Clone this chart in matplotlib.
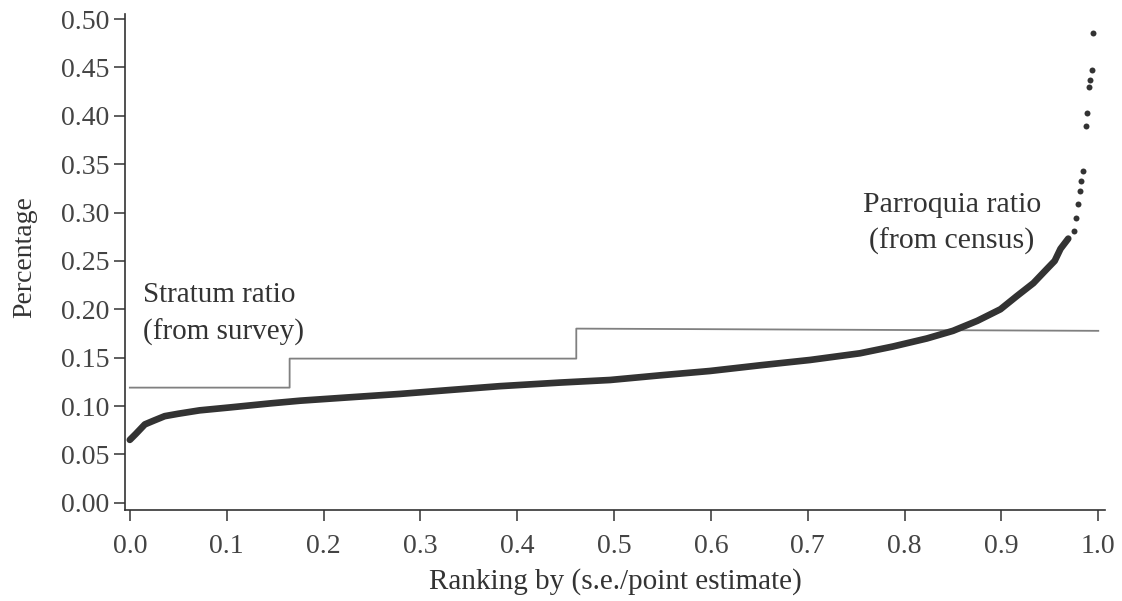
import matplotlib
matplotlib.use("Agg")
import matplotlib.pyplot as plt

plt.rcParams["font.family"] = ["Liberation Serif", "DejaVu Serif"]

# parroquia ratio, ranked (dense part of the curve)
rank = [0.000, 0.006, 0.0155, 0.025, 0.036, 0.050, 0.072, 0.103, 0.145,
        0.176, 0.227, 0.279, 0.330, 0.382, 0.444, 0.496, 0.5475, 0.599,
        0.651, 0.7025, 0.754, 0.788, 0.823, 0.850, 0.875, 0.899, 0.916,
        0.933, 0.947, 0.955, 0.961, 0.969]
ratio = [0.065, 0.071, 0.081, 0.085, 0.0895, 0.092, 0.0955, 0.0985, 0.1027,
         0.1055, 0.109, 0.1125, 0.1165, 0.1205, 0.1242, 0.1269, 0.1317,
         0.1362, 0.1421, 0.1476, 0.1545, 0.1615, 0.1698, 0.1777, 0.188,
         0.200, 0.2137, 0.227, 0.2417, 0.250, 0.2625, 0.273]

# sparse tail of the highest ratios
tail_rank = [0.975, 0.977, 0.979, 0.981, 0.982, 0.984, 0.987, 0.988,
             0.990, 0.991, 0.994, 0.995]
tail_ratio = [0.281, 0.294, 0.309, 0.322, 0.333, 0.343, 0.389, 0.4025,
              0.430, 0.437, 0.447, 0.4855]

# stratum ratio (from survey), step line
stratum_x = [0.000, 0.165, 0.165, 0.461, 0.461, 1.000]
stratum_y = [0.119, 0.119, 0.149, 0.149, 0.180, 0.1777]

xticks = [0.0, 0.1, 0.2, 0.3, 0.4, 0.5, 0.6, 0.7, 0.8, 0.9, 1.0]
yticks = [0.00, 0.05, 0.10, 0.15, 0.20, 0.25, 0.30, 0.35, 0.40, 0.45, 0.50]

ink = "#333333"

fig = plt.figure(figsize=(11.22, 6.01), dpi=100)
ax = fig.add_axes([0.1114, 0.1514, 0.8735, 0.825])

ax.plot(stratum_x, stratum_y, color="#808080", lw=1.3, zorder=2)
ax.plot(rank, ratio, color=ink, lw=4.8, solid_capstyle="round",
        solid_joinstyle="round", zorder=3)
ax.plot(tail_rank, tail_ratio, "o", color=ink, ms=4.3, mew=0, zorder=3)

ax.text(0.0134, 0.2075, "Stratum ratio", fontsize=21, color=ink)
ax.text(0.0134, 0.169, "(from survey)", fontsize=21, color=ink)
ax.text(0.849, 0.301, "Parroquia ratio", fontsize=21.5, color=ink, ha="center")
ax.text(0.849, 0.2625, "(from census)", fontsize=21.5, color=ink, ha="center")

ax.set_xlim(-0.005, 1.007)
ax.set_ylim(-0.0075, 0.505)
ax.set_xticks(xticks)
ax.set_xticklabels([f"{t:.1f}" for t in xticks])
ax.set_yticks(yticks)
ax.set_yticklabels([f"{t:.2f}" for t in yticks])

for side in ("top", "right"):
    ax.spines[side].set_visible(False)
for side in ("left", "bottom"):
    ax.spines[side].set_color(ink)
    ax.spines[side].set_linewidth(1.2)

ax.tick_params(axis="both", direction="out", length=8, width=1.1,
               color=ink, labelcolor="#444444", labelsize=20)
ax.tick_params(axis="x", pad=9)
ax.tick_params(axis="y", pad=3)

ax.set_xlabel("Ranking by (s.e./point estimate)", fontsize=21,
              color=ink, labelpad=7)
ax.set_ylabel("Percentage", fontsize=20, color=ink)
ax.yaxis.set_label_coords(-0.09, 0.51)

fig.savefig("out.png", dpi=100)
